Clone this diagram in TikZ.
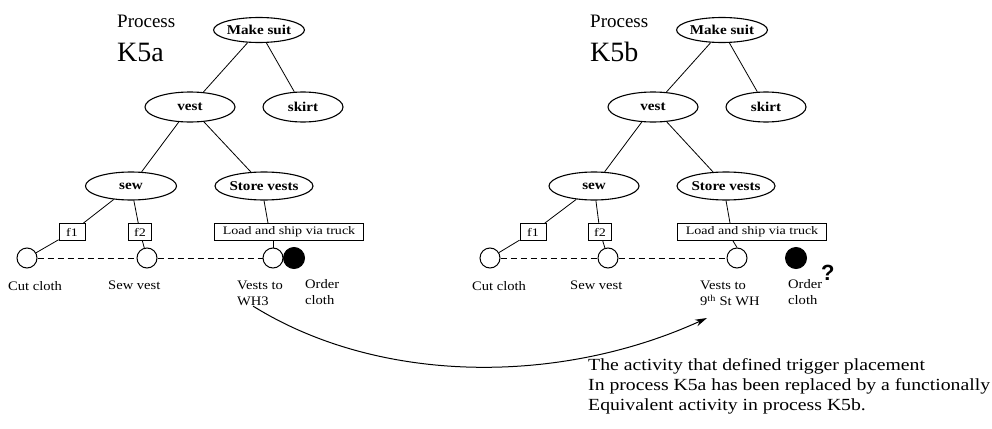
\documentclass[tikz,border=0pt]{standalone}
\usepackage{fontspec}
\setmainfont{Liberation Serif}
\newfontfamily\wf[FakeStretch=1.12]{Liberation Serif}
\newfontfamily\nf[FakeStretch=1.16]{Liberation Serif}
\newfontfamily\bxf[FakeStretch=1.22]{Liberation Serif}
\newfontfamily\qf{Liberation Sans}
\usetikzlibrary{shapes.geometric,arrows.meta,calc}
\begin{document}
\begin{tikzpicture}[x=1pt,y=-1pt,
  ell/.style={ellipse,draw,line width=1.1pt,inner sep=0pt,font=\wf\fontsize{13.5}{14}\selectfont\bfseries},
  fbox/.style={rectangle,draw,line width=0.9pt,inner sep=0pt,minimum height=17pt,font=\bxf\fontsize{11.5}{12}\selectfont},
  circ/.style={circle,draw,line width=1pt,minimum size=20pt,inner sep=0pt},
  dot/.style={circle,fill=black,draw,line width=1pt,minimum size=21pt,inner sep=0pt},
  lbl/.style={anchor=north west,inner sep=0pt,align=left,font=\wf\fontsize{13}{16}\selectfont},
  conn/.style={line width=0.8pt},
  dline/.style={line width=0.9pt,dash pattern=on 6pt off 4pt},
  ptitle/.style={anchor=base west,inner sep=0pt,font=\fontsize{19}{20}\selectfont},
  ktitle/.style={anchor=base west,inner sep=0pt,font=\fontsize{28}{30}\selectfont},
]
\useasboundingbox (0,0) rectangle (992,428);

% ---------- Process K5a ----------
\node[ptitle] (p1) at (117,28) {Process};
\node[ktitle] (k1) at (117,62) {K5a};
\node[ell,minimum width=90pt,minimum height=25pt] (ms1) at (259,30) {Make suit};
\node[ell,minimum width=90pt,minimum height=30pt] (v1) at (190,107) {vest};
\node[ell,minimum width=80pt,minimum height=30pt] (sk1) at (303,107) {skirt};
\node[ell,minimum width=91pt,minimum height=28pt] (sw1) at (131,186) {sew};
\node[ell,minimum width=98pt,minimum height=28pt] (st1) at (264,186) {Store vests};
\node[fbox,minimum width=26pt] (fa1) at (72,232) {f1};
\node[fbox,minimum width=23pt] (fb1) at (140,232) {f2};
\node[fbox,minimum width=149pt] (ld1) at (289,232) {Load and ship via truck};
\node[circ] (c11) at (27,258) {};
\node[circ] (c21) at (147,258) {};
\node[circ] (c31) at (273,258) {};
\node[dot] (d1) at (294,258) {};
\node[lbl] (l11) at (8,281) {Cut cloth};
\node[lbl] (l21) at (108,281) {Sew vest};
\node[lbl] (l31) at (237,281) {Vests to\\WH3};
\node[lbl] (l41) at (305,279) {Order\\cloth};

\draw[conn] (ms1) -- (v1);
\draw[conn] (ms1) -- (sk1);
\draw[conn] (v1) -- (sw1);
\draw[conn] (v1) -- (st1);
\draw[conn] (sw1) -- (fa1);
\draw[conn] (sw1) -- (fb1);
\draw[conn] (fa1) -- (c11);
\draw[conn] (fb1) -- (c21);
\draw[conn] (st1.south) -- ([xshift=-21pt]ld1.north);
\draw[conn] ([xshift=-16pt]ld1.south) -- (c31.north);
\draw[dline] (c11) -- (c21);
\draw[dline] (c21) -- (c31);

% ---------- Process K5b ----------
\node[ptitle] (p2) at (590,28) {Process};
\node[ktitle] (k2) at (590,62) {K5b};
\node[ell,minimum width=90pt,minimum height=25pt] (ms2) at (722,30) {Make suit};
\node[ell,minimum width=90pt,minimum height=30pt] (v2) at (653,107) {vest};
\node[ell,minimum width=80pt,minimum height=30pt] (sk2) at (766,107) {skirt};
\node[ell,minimum width=90pt,minimum height=28pt] (sw2) at (594,186) {sew};
\node[ell,minimum width=98pt,minimum height=28pt] (st2) at (726,186) {Store vests};
\node[fbox,minimum width=26pt] (fa2) at (533,232) {f1};
\node[fbox,minimum width=23pt] (fb2) at (600,232) {f2};
\node[fbox,minimum width=149pt] (ld2) at (752,232) {Load and ship via truck};
\node[circ] (c12) at (490,258) {};
\node[circ] (c22) at (608,258) {};
\node[circ] (c32) at (737,258) {};
\node[dot] (d2) at (796,258) {};
\node[lbl] (l12) at (472,281) {Cut cloth};
\node[lbl] (l22) at (570,281) {Sew vest};
\node[lbl] (l32) at (700,281) {Vests to\\9\textsuperscript{th} St WH};
\node[lbl] (l42) at (788,279) {Order\\cloth};
\node[anchor=base west,inner sep=0pt,font=\qf\fontsize{22}{24}\selectfont\bfseries] (q2) at (821,280) {?};

\draw[conn] (ms2) -- (v2);
\draw[conn] (ms2) -- (sk2);
\draw[conn] (v2) -- (sw2);
\draw[conn] (v2) -- (st2);
\draw[conn] (sw2) -- (fa2);
\draw[conn] (sw2) -- (fb2);
\draw[conn] (fa2) -- (c12);
\draw[conn] (fb2) -- (c22);
\draw[conn] (st2.south) -- ([xshift=-22pt]ld2.north);
\draw[conn] ([xshift=-19pt]ld2.south) -- (c32.north);
\draw[dline] (c12) -- (c22);
\draw[dline] (c22) -- (c32);

% ---------- arrow and note ----------
\coordinate (aend) at (707,318);
\draw[line width=1pt,-{Stealth[length=12pt,width=7pt]}] ([xshift=-7pt]l31.south) .. controls (380,385) and (560,385) .. (aend);
\node[anchor=north west,inner sep=0pt,align=left,font=\nf\fontsize{17}{20}\selectfont] (note) at (588,358)
  {The activity that defined trigger placement\\In process K5a has been replaced by a functionally\\Equivalent activity in process K5b.};
\end{tikzpicture}
\end{document}
